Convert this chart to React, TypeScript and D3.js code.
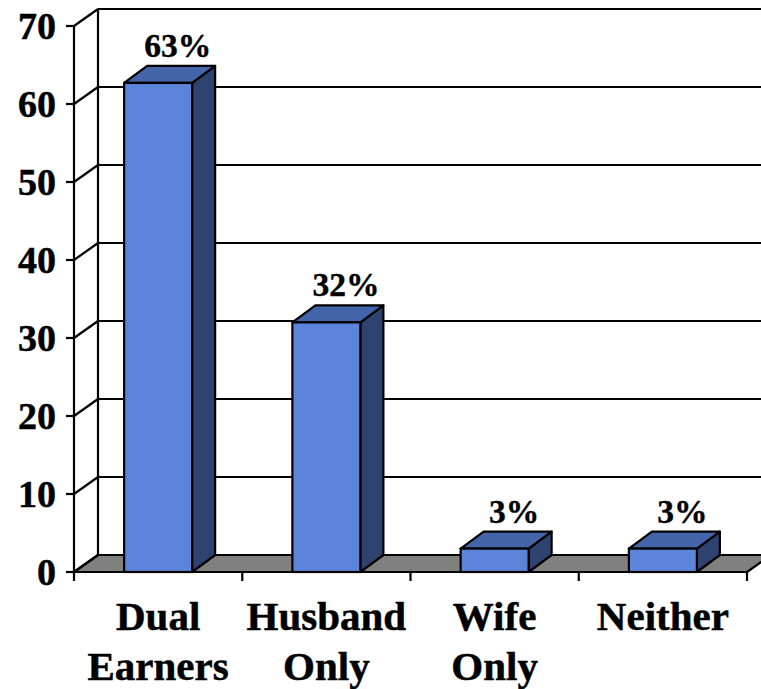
import React from "react";
import * as d3 from "d3";

const categories = ["Dual Earners", "Husband Only", "Wife Only", "Neither"];
const categoryLines = [["Dual", "Earners"], ["Husband", "Only"], ["Wife", "Only"], ["Neither"]];
const values = [62.7, 32, 3, 3];
const valueLabels = ["63%", "32%", "3%", "3%"];
const yTicks = [0, 10, 20, 30, 40, 50, 60, 70];

const W = 761;
const H = 689;
const FONT = "'Liberation Serif', 'Times New Roman', serif";

export default function App() {
  const x = d3.scaleBand<string>().domain(categories).range([74, 747]).padding(0);
  const y = d3.scaleLinear().domain([0, 70]).range([572, 26]);
  const DX = 24, DY = -17; // wall depth
  const BDX = 23, BDY = -17; // bar depth
  const barW = 68;
  const x0 = 74;
  const xEnd = 747;
  const y0 = y(0);

  const front = "#5B84DA";
  const top = "#4465A9";
  const side = "#2E4370";
  const floor = "#808080";
  const sw = 2.2;

  return (
    <svg width={W} height={H} style={{ position: "absolute", left: 0, top: 0, background: "#fff" }}>
      {/* floor */}
      <polygon
        points={`${x0},${y0} ${x0 + DX},${y0 + DY} ${xEnd + DX},${y0 + DY} ${xEnd},${y0}`}
        fill={floor}
        stroke="#000"
        strokeWidth={sw}
        strokeLinejoin="round"
      />
      {/* back wall gridlines */}
      {yTicks.map((t) => (
        <g key={"g" + t}>
          {t > 0 && (
            <line x1={x0 + DX} x2={W + 30} y1={y(t) + DY} y2={y(t) + DY} stroke="#000" strokeWidth={sw} />
          )}
          <line x1={x0} x2={x0 + DX} y1={y(t)} y2={y(t) + DY} stroke="#000" strokeWidth={sw} />
        </g>
      ))}
      {/* back wall left edge */}
      <line x1={x0 + DX} x2={x0 + DX} y1={y(70) + DY} y2={y0 + DY} stroke="#000" strokeWidth={sw} />
      {/* front value axis */}
      <line x1={x0} x2={x0} y1={y(70)} y2={y0 + 9} stroke="#000" strokeWidth={sw} />
      {yTicks.map((t) => (
        <g key={"t" + t}>
          <line x1={x0 - 8} x2={x0} y1={y(t)} y2={y(t)} stroke="#000" strokeWidth={sw} />
          <text
            x={56}
            y={y(t) + 13}
            textAnchor="end"
            fontFamily={FONT}
            fontWeight="bold"
            fontSize={38}
            fill="#000"
            stroke="#000"
            strokeWidth={0.5}
          >
            {t}
          </text>
        </g>
      ))}
      {/* front category axis line */}
      <line x1={x0 - 8} x2={xEnd} y1={y0} y2={y0} stroke="#000" strokeWidth={sw} />
      {categories.map((c) => (
        <line key={"ct" + c} x1={(x(c) as number) + x.bandwidth()} x2={(x(c) as number) + x.bandwidth()} y1={y0} y2={y0 + 9} stroke="#000" strokeWidth={sw} />
      ))}
      {/* bars */}
      {categories.map((c, i) => {
        const cx = (x(c) as number) + x.bandwidth() / 2;
        const l = cx - barW / 2;
        const r = cx + barW / 2;
        const yt = y(values[i]);
        return (
          <g key={"b" + c}>
            <polygon
              points={`${r},${y0} ${r + BDX},${y0 + BDY} ${r + BDX},${yt + BDY} ${r},${yt}`}
              fill={side}
              stroke="#000"
              strokeWidth={sw}
              strokeLinejoin="round"
            />
            <polygon
              points={`${l},${yt} ${l + BDX},${yt + BDY} ${r + BDX},${yt + BDY} ${r},${yt}`}
              fill={top}
              stroke="#000"
              strokeWidth={sw}
              strokeLinejoin="round"
            />
            <rect x={l} y={yt} width={barW} height={y0 - yt} fill={front} stroke="#000" strokeWidth={sw} />
            <text
              x={cx + BDX / 2 + 8}
              y={yt + BDY - 9}
              textAnchor="middle"
              fontFamily={FONT}
              fontWeight="bold"
              fontSize={33.5}
              fill="#000"
              stroke="#000"
              strokeWidth={0.4}
            >
              {valueLabels[i]}
            </text>
          </g>
        );
      })}
      {/* category labels */}
      {categories.map((c, i) => {
        const cx = (x(c) as number) + x.bandwidth() / 2;
        return (
          <text key={"cl" + c} textAnchor="middle" fontFamily={FONT} fontWeight="bold" fontSize={41} fill="#000" stroke="#000" strokeWidth={0.5}>
            {categoryLines[i].map((ln, j) => (
              <tspan key={j} x={cx} y={630 + j * 50}>
                {ln}
              </tspan>
            ))}
          </text>
        );
      })}
    </svg>
  );
}
